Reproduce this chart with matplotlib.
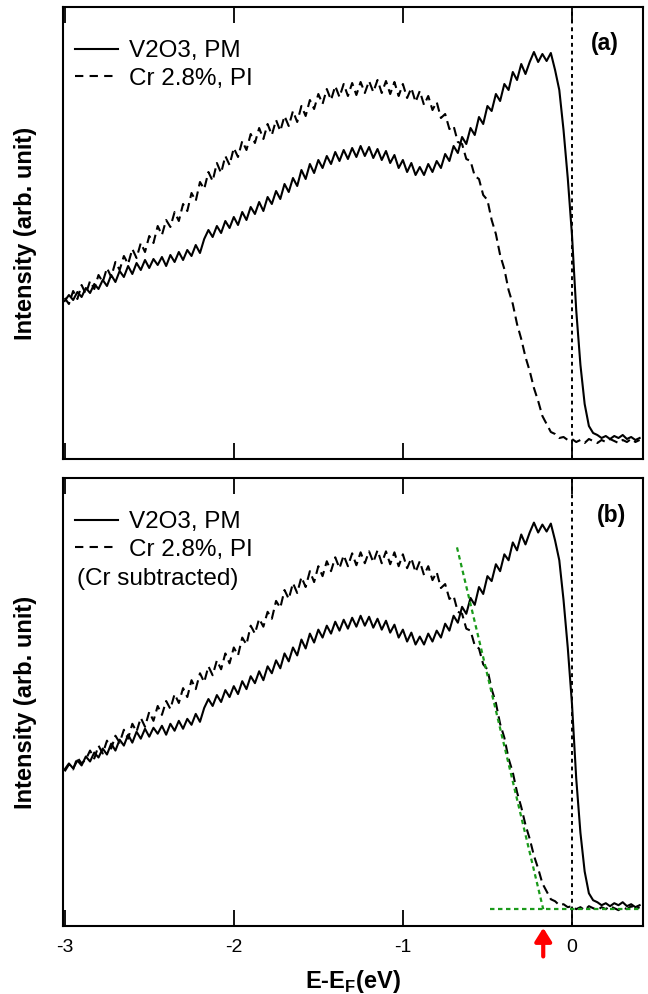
import numpy as np
import matplotlib
matplotlib.use("Agg")
import matplotlib.pyplot as plt
from matplotlib.lines import Line2D

plt.rcParams['font.family'] = ['Liberation Sans', 'DejaVu Sans']
plt.rcParams['mathtext.fontset'] = 'custom'
plt.rcParams['mathtext.rm'] = 'Liberation Sans'
plt.rcParams['mathtext.bf'] = 'Liberation Sans:bold'

# ---------------- data ----------------
energy = np.linspace(-3.0, 0.4, 137)   # eV grid, 0.025 eV step

v2o3_pm = [
    139, 145, 140, 148, 143, 152, 147, 156, 151, 160, 154, 165, 158, 169, 163, 174, 166, 177, 170, 180,
    172, 181, 175, 183, 174, 185, 178, 188, 180, 190, 184, 195, 187, 201, 210, 203, 214, 207, 219, 212,
    223, 215, 228, 220, 233, 226, 238, 229, 243, 236, 249, 241, 256, 248, 262, 254, 270, 261, 276, 267,
    280, 272, 284, 276, 288, 279, 290, 281, 292, 283, 294, 284, 293, 282, 291, 280, 289, 277, 285, 272,
    280, 268, 277, 265, 273, 265, 276, 268, 279, 272, 286, 279, 294, 287, 303, 296, 312, 305, 323, 316,
    334, 329, 346, 339, 356, 350, 368, 360, 376, 366, 378, 388, 378, 386, 379, 387, 370, 350, 310, 262,
    205, 130, 75, 36, 14, 7, 5, 2, 4, 1, 4, 2, 5, 1, 3, 0, 2,
]

cr28_pi = [
    142, 136, 149, 141, 155, 146, 159, 151, 165, 158, 172, 163, 178, 170, 184, 176, 191, 182, 197, 188,
    204, 197, 214, 205, 220, 213, 228, 219, 236, 229, 247, 239, 258, 251, 268, 259, 277, 267, 284, 275,
    292, 283, 299, 290, 306, 297, 312, 301, 316, 305, 320, 309, 324, 314, 329, 318, 334, 324, 340, 331,
    346, 336, 351, 340, 354, 343, 356, 344, 357, 345, 358, 347, 359, 348, 360, 347, 359, 346, 358, 344,
    356, 342, 352, 338, 349, 335, 344, 330, 338, 322, 326, 311, 314, 298, 296, 281, 279, 264, 261, 245,
    240, 220, 206, 185, 171, 150, 136, 116, 101, 83, 69, 52, 39, 24, 16, 8, 6, 2, 3, 0,
    1, -2, 0, -3, 1, -1, -3, 0, -2, 1, -1, -3, 0, -2, 1, -2, 0,
]

cr28_pi_sub = [
    137, 144, 139, 151, 145, 149, 158, 150, 163, 155, 168, 160, 173, 166, 179, 170, 185, 177, 191, 182,
    197, 188, 203, 194, 208, 200, 215, 206, 221, 212, 229, 220, 236, 227, 243, 234, 249, 240, 256, 246,
    262, 254, 272, 265, 284, 276, 291, 283, 298, 291, 309, 302, 320, 311, 327, 317, 333, 323, 339, 328,
    344, 334, 349, 339, 353, 342, 355, 344, 357, 345, 358, 347, 359, 348, 360, 347, 359, 346, 358, 344,
    356, 342, 352, 338, 349, 335, 344, 330, 338, 322, 326, 311, 314, 298, 296, 281, 279, 264, 261, 245,
    240, 220, 206, 185, 171, 150, 136, 116, 101, 83, 69, 52, 39, 24, 16, 8, 6, 2, 3, 0,
    1, -2, 0, -3, 1, -1, -3, 0, -2, 1, -1, -3, 0, -2, 1, -2, 0,
]

# linear leading-edge fit and background level (panel b)
fit_x = [-0.68, -0.17]
fit_y = [363, -2]
bg_x = [-0.485, 0.40]
bg_y = [-2, -2]
edge_arrow_x = -0.17

xticks = [-3, -2, -1, 0]
xticklabels = ['-3', '-2', '-1', '0']
labels = ['V2O3, PM', 'Cr 2.8%, PI']

# ---------------- figure ----------------
fig = plt.figure(figsize=(6.48, 9.94), dpi=100)
L, W = 63 / 648, 580 / 648
ax_a = fig.add_axes([L, 1 - 459 / 994, W, 452 / 994])
ax_b = fig.add_axes([L, 1 - 926 / 994, W, 448 / 994])

dash = (0, (4.5, 2.5))
for ax, dashed_y in ((ax_a, cr28_pi), (ax_b, cr28_pi_sub)):
    ax.plot(energy, v2o3_pm, color='black', lw=1.5)
    ax.plot(energy, dashed_y, color='black', lw=1.5, linestyle=dash)
    ax.axvline(0, color='black', lw=1.4, linestyle=(0, (2, 2)))
    ax.set_xlim(-3.01, 0.42)
    ax.set_ylim(-19, 433)
    ax.set_xticks(xticks)
    ax.set_yticks([])
    ax.tick_params(axis='x', direction='in', length=11.5, width=1.3,
                   top=True, bottom=True, labelsize=14, pad=9)
    for s in ax.spines.values():
        s.set_linewidth(1.5)
    ax.set_ylabel('Intensity (arb. unit)', fontsize=17, fontweight='bold')
    ax.yaxis.label.set_va('center')
    ax.yaxis.set_label_coords(-(63 - 26) / 580, 0.5)
    handles = [Line2D([], [], color='black', lw=1.5),
               Line2D([], [], color='black', lw=1.5, linestyle=(0, (4, 3)))]
    ax.legend(handles, labels, loc='upper left', bbox_to_anchor=(0.02, 0.926),
              frameon=False, fontsize=17.5, handlelength=1.8, handletextpad=0.42,
              labelspacing=0.22, borderaxespad=0, borderpad=0)

ax_a.set_xticklabels([])
ax_b.set_xticklabels(xticklabels)
ax_a.text(0.934, 0.92, '(a)', transform=ax_a.transAxes, fontsize=16.5,
          fontweight='bold', ha='center', va='center')
ax_b.text(0.945, 0.917, '(b)', transform=ax_b.transAxes, fontsize=16.5,
          fontweight='bold', ha='center', va='center')
ax_b.text(0.024, 0.775, '(Cr subtracted)', transform=ax_b.transAxes, fontsize=17.5,
          ha='left', va='center')

green = '#1a9a1a'
ax_b.plot(fit_x, fit_y, color=green, lw=1.6, linestyle=(0, (2, 1.6)))
ax_b.plot(bg_x, bg_y, color=green, lw=1.6, linestyle=(0, (2, 1.6)))
ax_b.annotate('', xy=(edge_arrow_x, -0.004), xytext=(edge_arrow_x, -0.068),
              xycoords=('data', 'axes fraction'), textcoords=('data', 'axes fraction'),
              arrowprops=dict(arrowstyle='-|>,head_width=0.5,head_length=0.8',
                              color='red', lw=3, shrinkA=0, shrinkB=0),
              annotation_clip=False)

ax_b.set_xlabel(r'E-E$_\mathbf{F}$(eV)', fontsize=17, fontweight='bold', labelpad=9)

fig.savefig('out.png', dpi=100)
